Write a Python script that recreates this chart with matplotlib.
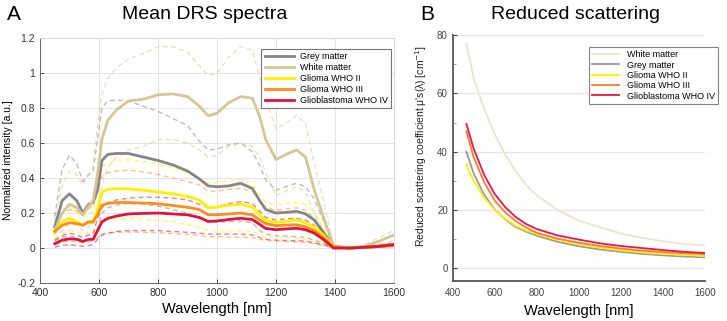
import matplotlib
matplotlib.use('Agg')
import matplotlib.pyplot as plt

plt.rcParams['font.family'] = ['Liberation Sans', 'DejaVu Sans']

# ---- Panel A: mean DRS spectra (solid) and spread (dashed) ----
wl = [450, 475, 500, 525, 545, 565, 580, 595, 610, 630, 660, 700, 750, 800, 850,
      900, 940, 970, 1000, 1040, 1080, 1120, 1145, 1165, 1200, 1240, 1270, 1300,
      1330, 1360, 1395, 1450, 1500, 1550, 1600]

grey_mean = [0.12, 0.27, 0.31, 0.27, 0.20, 0.25, 0.26, 0.33, 0.50, 0.535, 0.54, 0.54, 0.52, 0.50, 0.475,
             0.44, 0.395, 0.355, 0.35, 0.355, 0.37, 0.34, 0.27, 0.22, 0.20, 0.205, 0.21, 0.195,
             0.16, 0.09, 0.01, 0.0, 0.005, 0.01, 0.02]
white_mean = [0.10, 0.20, 0.25, 0.23, 0.19, 0.24, 0.27, 0.42, 0.62, 0.73, 0.79, 0.84, 0.85, 0.875, 0.88,
              0.865, 0.81, 0.755, 0.77, 0.83, 0.865, 0.855, 0.75, 0.62, 0.505, 0.54, 0.56, 0.52,
              0.33, 0.18, 0.01, 0.0, 0.01, 0.04, 0.075]
g2_mean = [0.085, 0.15, 0.17, 0.15, 0.13, 0.15, 0.145, 0.22, 0.32, 0.335, 0.34, 0.337, 0.33, 0.32, 0.31,
           0.295, 0.275, 0.23, 0.235, 0.245, 0.25, 0.235, 0.19, 0.16, 0.147, 0.155, 0.16, 0.145,
           0.12, 0.075, 0.01, 0.0, 0.005, 0.01, 0.015]
g3_mean = [0.095, 0.13, 0.145, 0.14, 0.13, 0.15, 0.15, 0.19, 0.245, 0.255, 0.26, 0.26, 0.257, 0.253, 0.243,
           0.233, 0.22, 0.19, 0.19, 0.195, 0.2, 0.19, 0.16, 0.14, 0.128, 0.132, 0.133, 0.122,
           0.1, 0.06, 0.01, 0.0, 0.005, 0.01, 0.015]
gbm_mean = [0.025, 0.045, 0.053, 0.05, 0.038, 0.05, 0.05, 0.1, 0.15, 0.17, 0.183, 0.195, 0.198, 0.2, 0.195,
            0.19, 0.175, 0.152, 0.155, 0.163, 0.17, 0.163, 0.135, 0.112, 0.105, 0.11, 0.113, 0.105,
            0.085, 0.05, 0.0, 0.0, 0.005, 0.01, 0.02]

grey_hi = [0.18, 0.45, 0.53, 0.48, 0.38, 0.42, 0.44, 0.62, 0.8, 0.84, 0.845, 0.84, 0.81, 0.78, 0.74,
           0.70, 0.61, 0.56, 0.565, 0.59, 0.6, 0.55, 0.47, 0.39, 0.33, 0.355, 0.37, 0.35,
           0.28, 0.16, 0.015, 0.0, 0.01, 0.02, 0.03]
grey_lo = [0.04, 0.06, 0.07, 0.06, 0.04, 0.05, 0.06, 0.1, 0.2, 0.23, 0.245, 0.255, 0.25, 0.24, 0.22,
           0.2, 0.17, 0.15, 0.148, 0.15, 0.155, 0.145, 0.1, 0.08, 0.07, 0.068, 0.065, 0.06,
           0.045, 0.03, 0.0, 0.0, 0.0, 0.005, 0.01]
white_hi = [0.15, 0.35, 0.44, 0.42, 0.36, 0.42, 0.46, 0.7, 0.88, 0.97, 1.03, 1.08, 1.11, 1.15, 1.15,
            1.12, 1.04, 0.985, 1.0, 1.09, 1.15, 1.13, 0.97, 0.85, 0.68, 0.72, 0.76, 0.71,
            0.48, 0.28, 0.01, 0.0, 0.02, 0.06, 0.1]
white_lo = [0.05, 0.1, 0.14, 0.13, 0.1, 0.12, 0.14, 0.2, 0.36, 0.46, 0.52, 0.56, 0.58, 0.62, 0.62,
            0.6, 0.56, 0.52, 0.53, 0.58, 0.6, 0.58, 0.52, 0.43, 0.3, 0.33, 0.35, 0.32,
            0.2, 0.1, 0.005, 0.0, 0.005, 0.02, 0.045]
g2_hi = [0.12, 0.2, 0.23, 0.2, 0.17, 0.2, 0.21, 0.33, 0.46, 0.485, 0.5, 0.505, 0.495, 0.48, 0.46,
         0.43, 0.4, 0.37, 0.375, 0.385, 0.39, 0.37, 0.3, 0.26, 0.245, 0.255, 0.26, 0.25,
         0.2, 0.12, 0.01, 0.0, 0.01, 0.015, 0.025]
g2_lo = [0.05, 0.08, 0.1, 0.09, 0.08, 0.09, 0.09, 0.12, 0.15, 0.16, 0.165, 0.17, 0.165, 0.16, 0.15,
         0.135, 0.12, 0.1, 0.1, 0.1, 0.1, 0.095, 0.075, 0.065, 0.06, 0.058, 0.056, 0.05,
         0.04, 0.025, 0.0, 0.0, 0.0, 0.005, 0.01]
g3_hi = [0.15, 0.2, 0.22, 0.21, 0.19, 0.22, 0.25, 0.33, 0.41, 0.43, 0.44, 0.445, 0.435, 0.42, 0.4,
         0.38, 0.36, 0.325, 0.325, 0.335, 0.34, 0.325, 0.27, 0.235, 0.215, 0.225, 0.23, 0.215,
         0.17, 0.1, 0.01, 0.0, 0.005, 0.01, 0.02]
g3_lo = [0.02, 0.035, 0.04, 0.035, 0.03, 0.035, 0.04, 0.06, 0.08, 0.085, 0.09, 0.092, 0.09, 0.088, 0.083,
         0.078, 0.072, 0.065, 0.065, 0.063, 0.062, 0.06, 0.05, 0.045, 0.04, 0.038, 0.036, 0.033,
         0.025, 0.015, 0.0, 0.0, 0.0, 0.005, 0.01]
gbm_hi = [0.045, 0.07, 0.085, 0.075, 0.06, 0.075, 0.08, 0.17, 0.23, 0.26, 0.275, 0.285, 0.29, 0.29, 0.285,
          0.275, 0.25, 0.23, 0.235, 0.255, 0.265, 0.255, 0.21, 0.175, 0.16, 0.168, 0.17, 0.16,
          0.13, 0.075, 0.0, 0.0, 0.005, 0.01, 0.02]
gbm_lo = [0.005, 0.015, 0.02, 0.015, 0.01, 0.015, 0.02, 0.05, 0.075, 0.085, 0.095, 0.1, 0.1, 0.1, 0.095,
          0.09, 0.085, 0.08, 0.08, 0.08, 0.08, 0.075, 0.06, 0.05, 0.045, 0.043, 0.042, 0.04,
          0.03, 0.02, 0.0, 0.0, 0.0, 0.005, 0.01]

# ---- Panel B: reduced scattering coefficient ----
wl_b = [465, 500, 550, 600, 650, 700, 750, 800, 900, 1000, 1100, 1200, 1300, 1400, 1500, 1600]
mus_white = [77, 65, 54.5, 46, 39, 33.3, 28.5, 25, 20, 16.4, 14.1, 12.0, 10.5, 9.3, 8.4, 7.8]
mus_grey = [40, 32.5, 25.2, 20.2, 16.8, 14.2, 12.6, 11.2, 9.1, 7.6, 6.5, 5.7, 5.0, 4.5, 4.1, 3.8]
mus_g2 = [35.6, 30, 24.2, 20, 17, 14.6, 13, 11.8, 9.8, 8.3, 7.1, 6.2, 5.5, 5.0, 4.6, 4.3]
mus_g3 = [47, 38, 29.5, 23.2, 19.2, 16.2, 14, 12.2, 10.2, 8.8, 7.7, 6.8, 6.1, 5.6, 5.2, 4.9]
mus_gbm = [49.5, 41, 32, 25.5, 21, 17.6, 15.2, 13.5, 11.3, 9.9, 8.6, 7.7, 7.0, 6.3, 5.7, 5.3]

fig = plt.figure(figsize=(7.27, 3.21), dpi=100)

# ---------------- A ----------------
ax = fig.add_axes([0.055, 0.118, 0.487, 0.764])
cols_a = {'grey': '#868686', 'white': '#d6c695', 'g2': '#fff000', 'g3': '#ff8c1a', 'gbm': '#e0123e'}

dash = (0, (3.5, 2.5))
for key, hi, lo in [('grey', grey_hi, grey_lo), ('white', white_hi, white_lo),
                    ('g2', g2_hi, g2_lo), ('g3', g3_hi, g3_lo), ('gbm', gbm_hi, gbm_lo)]:
    ax.plot(wl, hi, color=cols_a[key], lw=1.0, ls=dash, alpha=0.55)
    ax.plot(wl, lo, color=cols_a[key], lw=1.0, ls=dash, alpha=0.55)

ax.plot(wl, grey_mean, color=cols_a['grey'], lw=2.0, label='Grey matter')
ax.plot(wl, white_mean, color=cols_a['white'], lw=2.0, label='White matter')
ax.plot(wl, g2_mean, color=cols_a['g2'], lw=2.0, label='Glioma WHO II')
ax.plot(wl, g3_mean, color=cols_a['g3'], lw=2.0, label='Glioma WHO III')
ax.plot(wl, gbm_mean, color=cols_a['gbm'], lw=2.0, label='Glioblastoma WHO IV')

ax.set_xlim(400, 1600)
ax.set_ylim(-0.2, 1.2)
ax.set_xticks([400, 600, 800, 1000, 1200, 1400, 1600])
ax.set_yticks([-0.2, 0, 0.2, 0.4, 0.6, 0.8, 1.0, 1.2])
ax.set_yticklabels(['-0.2', '0', '0.2', '0.4', '0.6', '0.8', '1', '1.2'])
ax.tick_params(direction='in', length=3, labelsize=7.5, colors='#333333', width=0.6)
ax.grid(True, color='#e4e4e4', lw=0.7)
ax.set_axisbelow(True)
for s in ['top', 'right']:
    ax.spines[s].set_color('#d8d8d8')
for s in ['left', 'bottom']:
    ax.spines[s].set_color('#666666')
for s in ax.spines.values():
    s.set_linewidth(0.7)
ax.set_xlabel('Wavelength [nm]', fontsize=10.5, labelpad=3)
ax.set_ylabel('Normalized intensity [a.u.]', fontsize=7.5, labelpad=3)
leg = ax.legend(loc='upper right', bbox_to_anchor=(0.544, 0.862), bbox_transform=fig.transFigure,
                fontsize=6.5, frameon=True, fancybox=False, handlelength=3.3, borderpad=0.35,
                labelspacing=0.22, handletextpad=0.6)
leg.get_frame().set_edgecolor('#555555')
leg.get_frame().set_linewidth(0.8)

# ---------------- B ----------------
bx = fig.add_axes([0.6227, 0.1246, 0.3470, 0.7664])
bx.plot(wl_b, mus_white, color='#eee4cc', lw=1.3, label='White matter')
bx.plot(wl_b, mus_grey, color='#9a9a9a', lw=1.3, label='Grey matter')
bx.plot(wl_b, mus_g2, color='#fff000', lw=1.3, label='Glioma WHO II')
bx.plot(wl_b, mus_g3, color='#ff7a30', lw=1.3, label='Glioma WHO III')
bx.plot(wl_b, mus_gbm, color='#e8174a', lw=1.3, label='Glioblastoma WHO IV')

bx.set_xlim(400, 1600)
bx.set_ylim(-4.3, 80)
bx.set_xticks([400, 600, 800, 1000, 1200, 1400, 1600])
bx.set_yticks([0, 20, 40, 60, 80])
bx.set_yticks([10, 30, 50, 70], minor=True)
bx.tick_params(axis='x', length=0, labelsize=7, colors='#444444', pad=5)
bx.tick_params(axis='y', which='major', direction='in', length=3, labelsize=7, colors='#444444')
bx.tick_params(axis='y', which='minor', direction='in', length=2, colors='#888888')
bx.yaxis.grid(True, color='#e6e6e6', lw=0.9)
bx.set_axisbelow(True)
bx.spines['top'].set_visible(False)
bx.spines['right'].set_visible(False)
for s in ['left', 'bottom']:
    bx.spines[s].set_color('#555555')
    bx.spines[s].set_linewidth(1.3)
bx.set_xlabel('Wavelength [nm]', fontsize=10.5, labelpad=4)
bx.set_ylabel("Reduced scattering coefficient μ's(λ) [cm$^{-1}$]", fontsize=7.5,
              color='#222222')
bx.yaxis.set_label_coords(-0.095, 0.55)
leg2 = bx.legend(loc='upper right', bbox_to_anchor=(0.994, 0.869), bbox_transform=fig.transFigure,
                 fontsize=6.5, frameon=True, fancybox=False, handlelength=3.0, borderpad=0.4,
                 labelspacing=0.15, handletextpad=0.8)
leg2.get_frame().set_edgecolor('#666666')
leg2.get_frame().set_linewidth(0.8)

# panel letters and titles
fig.text(0.010, 0.955, 'A', fontsize=15, va='center', ha='left')
fig.text(0.282, 0.955, 'Mean DRS spectra', fontsize=14, va='center', ha='center')
fig.text(0.578, 0.955, 'B', fontsize=15, va='center', ha='left')
fig.text(0.792, 0.955, 'Reduced scattering', fontsize=14, va='center', ha='center')

fig.savefig('out.png', dpi=100)
